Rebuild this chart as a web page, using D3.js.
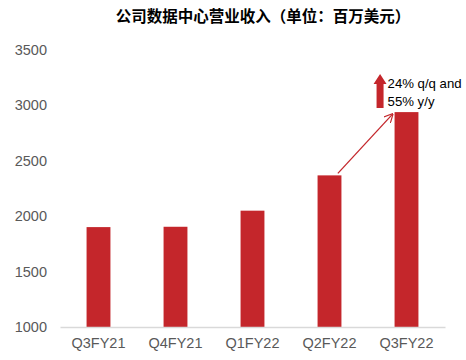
<!DOCTYPE html>
<html><head><meta charset="utf-8">
<script src="https://cdn.jsdelivr.net/npm/d3@7"></script>
<style>body{margin:0;background:#fff}</style>
</head><body>
<svg id="c" width="466" height="360"></svg>
<script>
const categories = ["Q3FY21","Q4FY21","Q1FY22","Q2FY22","Q3FY22"];
const revenue = [1900, 1903, 2048, 2366, 2936];
const yTicks = [1000,1500,2000,2500,3000,3500];
const titleText = "公司数据中心营业收入（单位：百万美元）";
const noteLines = ["24% q/q and","55% y/y"];

const svg = d3.select("#c");
const red = "#C4262B";
const x = d3.scaleBand().domain(categories).range([60,445]).paddingInner(0.69).paddingOuter(0.345);
const y = d3.scaleLinear().domain([1000,3500]).range([327,49.5]);

svg.append("text").attr("x",263).attr("y",22).attr("text-anchor","middle")
  .attr("font-family","'Noto Sans CJK SC'").attr("font-weight","bold").attr("font-size",15.5)
  .attr("fill","#000").text(titleText);

const ya = svg.append("g").attr("transform","translate(52,0)")
  .call(d3.axisLeft(y).tickValues(yTicks).tickSize(0).tickPadding(5).tickFormat(d3.format("d")));
ya.select(".domain").remove();
ya.selectAll("text").attr("font-family","Liberation Sans, Arial").attr("font-size",14.5).attr("fill","#595959");

svg.selectAll("rect.bar").data(revenue).join("rect").attr("class","bar")
  .attr("x",(d,i)=>x(categories[i])).attr("width",x.bandwidth())
  .attr("y",d=>y(d)).attr("height",d=>y(1000)-y(d)).attr("fill",red);

const xa = svg.append("g").attr("transform","translate(0,327)")
  .call(d3.axisBottom(x).tickSize(0).tickPadding(11));
xa.select(".domain").attr("stroke","#d9d9d9").attr("stroke-width",1.5);
xa.selectAll("text").attr("font-family","Liberation Sans, Arial").attr("font-size",14.5).attr("fill","#595959");

// arrow from Q2 bar top to Q3 bar top
const defs = svg.append("defs");
defs.append("marker").attr("id","ah").attr("viewBox","0 0 10 10").attr("refX",9).attr("refY",5)
  .attr("markerWidth",9).attr("markerHeight",9).attr("markerUnits","userSpaceOnUse").attr("orient","auto")
  .append("path").attr("d","M0,0 L10,5 L0,10").attr("fill","none").attr("stroke",red).attr("stroke-width",1.3);
const x2 = x("Q2FY22")+x.bandwidth()*0.85, y2 = y(revenue[3])-2;
const x3 = x("Q3FY22")-2, y3 = y(revenue[4])+2;
svg.append("line").attr("x1",x2).attr("y1",y2).attr("x2",x3).attr("y2",y3)
  .attr("stroke",red).attr("stroke-width",1.3).attr("marker-end","url(#ah)");

// up block arrow
const ax = x("Q3FY22")-21;
svg.append("path").attr("d",`M${ax},84 L${ax+6.5},74 L${ax+13},84 L${ax+10},84 L${ax+10},108 L${ax+3},108 L${ax+3},84 Z`)
  .attr("fill",red);
svg.append("g").selectAll("text").data(noteLines).join("text")
  .attr("x",ax+14).attr("y",(d,i)=>88+i*17.5)
  .attr("font-family","Liberation Sans, Arial").attr("font-size",13.2).attr("fill","#000").text(d=>d);
</script>
</body></html>
